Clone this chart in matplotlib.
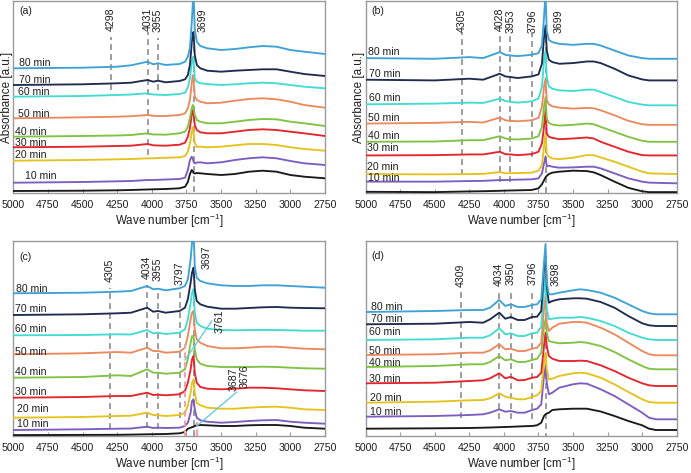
import matplotlib
matplotlib.use('Agg')
import matplotlib.pyplot as plt

plt.rcParams['font.family'] = ['Liberation Sans', 'DejaVu Sans']
plt.rcParams['mathtext.fontset'] = 'custom'
plt.rcParams['mathtext.rm'] = 'Liberation Sans'
plt.rcParams['mathtext.it'] = 'Liberation Sans:italic'

# ---------------- data (absorbance, arbitrary units) ----------------
SERIES = ['0 min', '10 min', '20 min', '30 min', '40 min', '50 min', '60 min', '70 min', '80 min']
COLORS = ['#1a1a1a', '#7e5cc0', '#e6c21c', '#e3252d', '#80c342', '#ea8a5e', '#42dcd2', '#1f2c4f', '#3ea2d6']

# panel (a)
A_WN = [5000, 4500, 4250, 4150, 4031, 3990, 3955, 3900, 3800, 3760, 3740, 3725, 3712, 3704, 3699,
        3690, 3675, 3650, 3600, 3500, 3400, 3300, 3200, 3100, 3000, 2900, 2750]
A_00 = [2, 2.3, 2.7, 3, 3.5, 3.7, 3.8, 4, 4.7, 6.3, 11, 19, 23, 21.5, 20, 19.5, 20, 19.7, 19, 18, 19, 21.3, 22.3, 21.3, 18, 16.3, 14.7]
A_10 = [10.3, 11, 11.7, 12, 13, 13, 13.2, 13.5, 14, 15.3, 23, 33, 36.3, 34, 31.3, 29.7, 30.5, 30.7, 29.7, 30.7, 33, 34.7, 35.7, 34.7, 32, 29.7, 28]
A_20 = [32.3, 33, 33.7, 34, 34.7, 34.7, 35, 35.2, 35.7, 37, 41.3, 50, 60, 66, 62, 50, 46, 46.3, 45.7, 46.3, 47.7, 49, 49, 48, 45.7, 44, 42.3]
A_30 = [45.7, 46.3, 47, 47.3, 49, 47.7, 47.5, 47.3, 48.3, 50.3, 56.3, 65, 78, 83, 80, 68, 63, 60.7, 59.7, 59.7, 61.3, 63, 63.7, 63, 61.3, 59.7, 57]
A_40 = [56.3, 57, 57.5, 58, 59.7, 58.5, 58.5, 58.3, 59.7, 61.3, 66.3, 75, 85, 88, 86, 78, 73, 71.3, 69.7, 69.7, 71.3, 73, 74, 73.7, 71.3, 69.7, 67]
A_50 = [74.7, 75.7, 76.3, 76.8, 78, 77.2, 77, 77, 78, 79.7, 84.7, 93, 110, 118, 114, 96.3, 93, 91.3, 89.7, 90.3, 92.3, 94, 94.7, 93.7, 91.3, 88, 85.3]
A_60 = [96.3, 97, 98, 98.5, 99.7, 98.5, 98.3, 98, 99, 100.3, 105.7, 115, 130, 136, 132, 114.7, 111.3, 109.7, 109, 108, 108.7, 109.7, 110.3, 109.7, 108, 106.3, 104.7]
A_70 = [108, 108.7, 109.7, 110.3, 113, 111.3, 112.3, 110.7, 112, 113.7, 118, 128, 150, 160, 161, 138, 128, 124.7, 122.3, 121.3, 122.3, 123, 123.7, 123.7, 121.3, 119, 117]
A_80 = [124.7, 125.3, 126.3, 127.7, 131.3, 128.7, 129.7, 128, 129, 131.3, 136.3, 145, 170, 190, 200, 163, 151.3, 147, 144.7, 143, 144, 145.7, 147, 146.3, 143, 141.3, 139]

# panel (b)
B_WN = [5000, 4500, 4250, 4150, 4030, 3990, 3953, 3900, 3800, 3750, 3725, 3710, 3699, 3690, 3675,
        3650, 3600, 3500, 3400, 3350, 3300, 3200, 3100, 3000, 2950, 2750]
B_00 = [1.5, 1.2, 1.9, 2.1, 2.5, 2.7, 2.8, 3, 3.3, 5, 9, 13, 16, 17.5, 19.3, 20.7, 21.7, 22.7, 22.3, 21, 18.3, 11.7, 5.5, 2, 1.2, 1.2]
B_10 = [11.7, 11.7, 12.3, 12.5, 13.3, 13.3, 13.5, 13.7, 14, 15, 20, 30, 37, 27, 27.7, 26.7, 25.7, 26, 26.7, 26.7, 25, 20, 15, 11.7, 10.7, 10]
B_20 = [19.3, 19, 19.3, 19.5, 21.3, 20, 20.2, 20.3, 20.7, 22.7, 28.3, 46.7, 60, 40, 36.7, 35, 34.3, 35.7, 38.3, 38.3, 36, 31.7, 26.7, 21.7, 20, 19.3]
B_30 = [38, 38.3, 39, 39, 41.7, 39.3, 39, 38.3, 39.3, 41.7, 50, 66.7, 83.3, 60, 56.7, 55.7, 54.3, 55, 56, 55, 51.7, 46.7, 41.7, 38.3, 38, 38]
B_40 = [51.7, 52, 53.3, 53.3, 57.3, 55, 54.3, 54, 55, 57.3, 66.7, 86.7, 96.7, 75, 70.7, 69, 68, 68.7, 70, 69.3, 66.7, 61.7, 56.7, 52.7, 51.7, 51.7]
B_50 = [70, 70.7, 71.7, 71, 76, 73.3, 72.7, 72.3, 73.3, 75.7, 86.7, 106.7, 115, 93.3, 89.3, 87.3, 86, 85, 85.7, 85.3, 83.3, 78.3, 72.7, 69.3, 68.7, 68.7]
B_60 = [89.3, 90, 91, 90.7, 95, 92.7, 91.7, 91, 92.3, 95, 106.7, 133.3, 143.3, 116.7, 107.3, 105, 103.3, 102.7, 104, 104, 101.7, 96.7, 91.7, 89, 88.3, 88.3]
B_70 = [114, 113.3, 115, 114, 120, 117.3, 116.7, 115.7, 117.3, 119.3, 130, 156.7, 168.3, 143.3, 134, 131.7, 130, 130.7, 132.3, 132.3, 130.7, 125, 118.3, 114.3, 113.3, 113.3]
B_80 = [135.7, 135, 136.7, 135.7, 141.7, 139, 138.3, 137.7, 139, 140.7, 148.3, 176.7, 200, 163.3, 154, 151.7, 150, 149, 150, 150, 148.3, 143.3, 138.3, 135.7, 135, 135]

# panel (c)
C_WN = [5000, 4500, 4250, 4150, 4034, 3990, 3955, 3900, 3800, 3761, 3740, 3720, 3710, 3699, 3690,
        3676, 3650, 3600, 3500, 3400, 3300, 3200, 3100, 3000, 2900, 2750]
C_00 = [0.9, 1.1, 1.2, 1.4, 1.7, 1.8, 1.9, 2, 2.7, 4, 7.3, 8.3, 8.8, 9.3, 10, 10.7, 11, 10.7, 10, 10, 10.7, 11, 11, 10, 8.3, 7.3]
C_10 = [6, 6.7, 7.3, 7.5, 9.3, 8, 8.3, 8, 8.3, 10, 13.3, 23.3, 35, 36.7, 26.7, 18.3, 15.7, 14.3, 13.3, 14, 15, 15.7, 16, 14.3, 13.3, 12.3]
C_20 = [18.3, 19, 20, 20.3, 23.3, 21, 20.7, 20, 21, 23.3, 30, 43.3, 53.3, 56.7, 43.3, 33.3, 30.7, 28.3, 27.3, 27.3, 28.3, 29, 29.3, 28.3, 26.7, 26]
C_30 = [38.3, 39, 40, 40, 43.3, 41, 41.3, 40.7, 41.7, 45, 53.3, 66.7, 76.7, 80, 63.3, 53.3, 49, 47.3, 46.7, 47.3, 48.3, 48.3, 47.7, 46.7, 45.7, 45]
C_40 = [58.3, 59, 60.7, 60, 66.7, 63.3, 63.3, 62.3, 63.3, 66.7, 76.7, 93.3, 100, 100, 86.7, 76.7, 72.3, 70, 69, 69, 69, 69.3, 69, 68.3, 67.7, 67.3]
C_50 = [81.7, 82.7, 84, 83.3, 88.3, 85, 85, 83.3, 84.3, 88.3, 100, 116.7, 123.3, 125, 106.7, 96.7, 93.3, 90, 87.7, 87.7, 88.3, 89.3, 89.3, 88.3, 87.3, 86.7]
C_60 = [100.7, 101, 101.7, 101.5, 106, 102.7, 103.3, 102, 103.3, 106.7, 116.7, 133.3, 143.3, 146.7, 123.3, 113.3, 110, 107.3, 106, 105.7, 106, 106, 106, 105.7, 105.3, 105.3]
C_70 = [121, 121.7, 122.7, 123.3, 128.3, 124.3, 125, 123.3, 125, 128.3, 136.7, 153.3, 163.3, 168.3, 146.7, 135, 131.7, 129.3, 127.3, 127.3, 128, 128.7, 129, 128.3, 128, 127.7]
C_80 = [142.7, 143.3, 144.3, 145, 150, 146.7, 147.3, 145.7, 147.7, 150, 156.7, 176.7, 193.3, 205, 170, 158.3, 155, 152.7, 150.7, 150, 150, 150.7, 150.7, 150, 149.3, 148.3]

# panel (d)
D_WN = [5000, 4500, 4250, 4150, 4100, 4034, 3990, 3950, 3900, 3850, 3796, 3760, 3730, 3710, 3699,
        3690, 3675, 3650, 3600, 3500, 3450, 3400, 3300, 3200, 3100, 3000, 2950, 2900, 2750]
D_00 = [7.3, 7.7, 8, 8.3, 8.5, 8.8, 9, 9.2, 9.5, 9.8, 10, 10.7, 13.3, 20, 21.7, 22.5, 23.3, 26, 26.7, 27.3, 27.3, 27.3, 24.5, 20, 15, 10.7, 7.3, 6, 6]
D_10 = [19.3, 20, 21, 21.7, 23.3, 26.7, 24.3, 25, 23.3, 23.3, 26, 27.3, 31.7, 60, 70, 53.3, 41.7, 43.3, 48.3, 51.7, 52.7, 52.3, 46.7, 40, 31.7, 23.3, 18.3, 16.7, 16.7]
D_20 = [33.3, 34.3, 35.7, 36, 37.7, 42.7, 39.3, 38.3, 36.7, 36.7, 39, 40.7, 45, 73.3, 83.3, 66.7, 56.7, 57.3, 60, 62.7, 63.3, 62.7, 58.3, 51.7, 44, 36.7, 34, 33.3, 33.3]
D_30 = [52.7, 53.3, 55, 55.7, 57.7, 62.7, 57.7, 59.3, 55.7, 56, 58.3, 59, 63.3, 90, 103.3, 90, 80, 77.3, 75, 75, 75.3, 75, 70.7, 65, 58.3, 52.7, 50.7, 50, 50]
D_40 = [69, 70, 71.7, 71.7, 74, 80, 75.7, 76.7, 74, 74, 76, 77.3, 83.3, 110, 116.7, 103.3, 95, 94, 92.7, 93.3, 94, 93.3, 90, 84, 76.7, 70, 67.3, 66.7, 66.7]
D_50 = [81, 81.7, 83.3, 83.3, 85.7, 91.7, 86.7, 87.3, 85, 85, 87.3, 88.3, 93.3, 126.7, 140, 113.3, 105, 108.3, 112.3, 114, 114, 113.3, 108.3, 101.7, 93.3, 85, 81.7, 80.7, 80.7]
D_60 = [96, 96.7, 98.3, 98.3, 100.7, 107.7, 101.7, 102.7, 100, 100, 102.7, 103.3, 109.3, 146.7, 160, 126.7, 116.7, 117.3, 118.3, 118.3, 119, 118.3, 115, 110, 103.3, 98.3, 96.7, 96, 96]
D_70 = [111.7, 112.3, 114, 113.3, 116.7, 123.3, 117.3, 119, 116, 116, 119, 119.3, 125, 166.7, 180, 150, 133.3, 135, 136.7, 137.7, 137.7, 137.3, 134, 128.3, 120, 112.7, 110.7, 110, 110]
D_80 = [124, 125, 126, 126, 128.3, 136, 130, 131.7, 129, 129, 131, 131.7, 136.7, 173.3, 192, 153.3, 141.7, 141.7, 143.3, 145.7, 146.7, 146, 143.3, 138.3, 131.7, 125, 122.7, 121.7, 121.7]

# band positions (cm-1) marked in each panel
A_BANDS = [4298, 4031, 3955, 3699]
B_BANDS = [4305, 4028, 3953, 3796, 3699]
C_BANDS = [4305, 4034, 3955, 3797, 3697]
D_BANDS = [4309, 4034, 3950, 3796, 3698]
C_EXTRA_BANDS = [3761, 3687, 3676]

X_TICKS = [5000, 4750, 4500, 4250, 4000, 3750, 3500, 3250, 3000, 2750]

# ---------------- layout ----------------
W, H = 691, 473
fig = plt.figure(figsize=(W / 100, H / 100), dpi=100)

def rect(l, r, b, t):
    return [l / W, 1 - b / H, (r - l) / W, (b - t) / H]

FS = 7.6
FS_AX = 8.4
GRAY = '#9a9a9a'
DASH = '#8c8c8c'
TXT = '#1e1e1e'

panels = [
    dict(tag='(a)', rect=rect(13.3, 325, 193, 1), ylim=192, wn=A_WN,
         ys=[A_00, A_10, A_20, A_30, A_40, A_50, A_60, A_70, A_80],
         labpos=[(4915, 17.3), (4988, 38), (4988, 50.3), (4988, 61.3), (4964, 79), (4964, 101.3), (4959, 113), (4959, 130.3)],
         bands=A_BANDS,
         bandgeom=[(103, 156, 4298, 174), (38, 161, 4031, 174), (103, 155, 3955, 172.5), (1, 150, 3632, 173)],
         tagy=0.93, ylabel=True),
    dict(tag='(b)', rect=rect(365.7, 676.7, 193.3, 1), ylim=193, wn=B_WN,
         ys=[B_00, B_10, B_20, B_30, B_40, B_50, B_60, B_70, B_80],
         labpos=[(4986, 15), (4993, 26.7), (4993, 45.7), (4981, 57.3), (4981, 76), (4976, 96), (4976, 120), (4981, 141.7)],
         bands=B_BANDS,
         bandgeom=[(18.3, 161.7, 4305, 174), (11.7, 163, 4028, 175), (11.7, 161.7, 3953, 173), (36.7, 161.7, 3796, 173), (0, 160, 3601, 173)],
         tagy=0.93, ylabel=True),
    dict(tag='(c)', rect=rect(13.3, 325, 436, 241), ylim=195, wn=C_WN,
         ys=[C_00, C_10, C_20, C_30, C_40, C_50, C_60, C_70, C_80],
         labpos=[(4976, 11.7), (4976, 26.7), (4988, 44), (4988, 64), (4988, 84), (4988, 106.7), (4988, 127.3), (4980, 147.3)],
         bands=C_BANDS,
         bandgeom=[(7.3, 148.3, 4305, 166), (8.3, 150.7, 4034, 168.3), (7.3, 146.7, 3955, 166.7), (18.3, 147.3, 3797, 162.7), (0, 150, 3604, 178.3)],
         tagy=0.9, ylabel=False),
    dict(tag='(d)', rect=rect(365.7, 676.7, 436, 241), ylim=195, wn=D_WN,
         ys=[D_00, D_10, D_20, D_30, D_40, D_50, D_60, D_70, D_80],
         labpos=[(4969, 24), (4969, 38.3), (4976, 57.3), (4976, 73.3), (4976, 85), (4976, 104), (4962, 117.3), (4962, 129)],
         bands=D_BANDS,
         bandgeom=[(18.3, 144, 4309, 161), (17.3, 145, 4034, 161.7), (17.3, 143.3, 3950, 162.7), (17.3, 143.3, 3796, 163), (-3, 150, 3625, 161.7)],
         tagy=0.91, ylabel=False),
]

for p in panels:
    ax = fig.add_axes(p['rect'])
    ax.set_xlim(5000, 2750)
    ax.set_ylim(0, p['ylim'])
    for s in ax.spines.values():
        s.set_color(GRAY)
        s.set_linewidth(1.0)
    ax.set_yticks([])
    ax.set_xticks(X_TICKS)
    ax.set_xticklabels([str(t) for t in X_TICKS])
    ax.tick_params(axis='x', direction='in', length=3, color=GRAY, labelsize=FS, pad=5, labelcolor=TXT)
    ax.set_xlabel('Wave number [cm$^{-1}$]', fontsize=FS_AX, labelpad=1.0, color=TXT)
    if p['ylabel']:
        ax.set_ylabel('Absorbance [a.u.]', fontsize=FS_AX, labelpad=0.5, color=TXT)

    # band marker lines
    for band, (y0, y1, tx, ty) in zip(p['bands'], p['bandgeom']):
        ax.plot([band, band], [y0, y1], color=DASH, lw=1.2, dashes=(3.5, 2.5), zorder=1)
        ax.text(tx, ty, str(band), rotation=90, ha='center', va='center', fontsize=FS, color=TXT)

    # spectra
    for y, c in zip(p['ys'], COLORS):
        ax.plot(p['wn'], y, color=c, lw=1.35, zorder=3, solid_joinstyle='round')

    for name, (lx, ly) in zip(SERIES[1:], p['labpos']):
        ax.text(lx, ly, name, ha='left', va='center', fontsize=FS, color=TXT, zorder=5)

    ax.text(0.018, p['tagy'], p['tag'], transform=ax.transAxes, fontsize=FS, color=TXT)

    if p['tag'] == '(c)':
        # extra bands 3761 / 3687 / 3676
        ax.plot([3761, 3761], [0, 92], color='#f2a0a6', lw=1.4, dashes=(3, 2), zorder=4)
        ax.plot([3676, 3676], [0, 14], color='#f2a0a6', lw=1.6, dashes=(3, 2), zorder=4)
        ax.plot([3761, 3567], [76, 115], color='#5cc6e0', lw=0.9, zorder=6)
        ax.plot([3676, 3387], [10, 44], color='#5cc6e0', lw=0.9, zorder=6)
        ax.text(3508, 115, str(C_EXTRA_BANDS[0]), rotation=90, ha='center', va='center', fontsize=FS, color=TXT)
        ax.text(3407, 57, str(C_EXTRA_BANDS[1]), rotation=90, ha='center', va='center', fontsize=FS, color=TXT)
        ax.text(3332, 60, str(C_EXTRA_BANDS[2]), rotation=90, ha='center', va='center', fontsize=FS, color=TXT)

fig.savefig('out.png', dpi=100)
